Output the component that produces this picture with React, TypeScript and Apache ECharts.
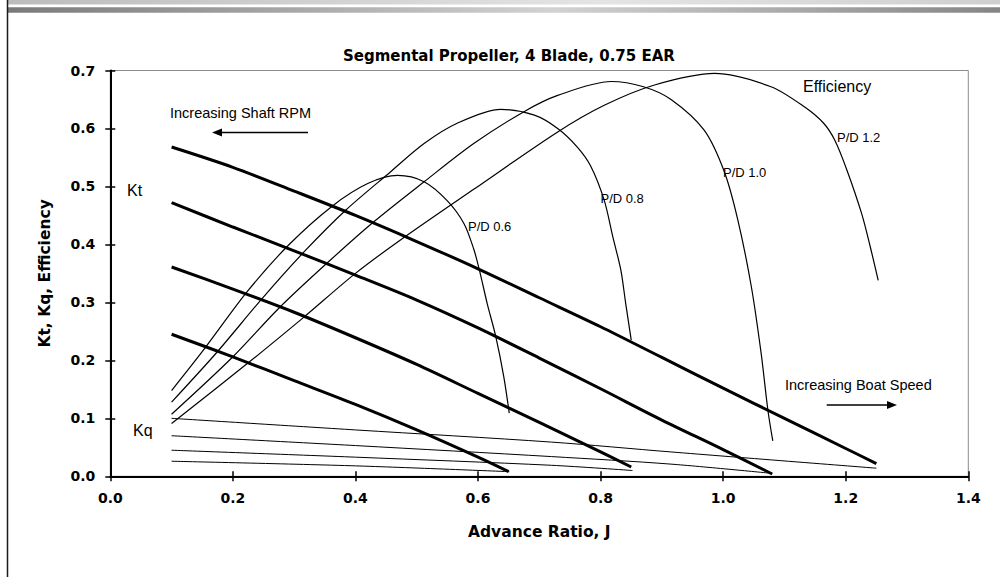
import React, { useEffect, useRef } from "react";
import * as echarts from "echarts";

// ---- Axis ticks ----
const X_TICK_LABELS = ["0.0", "0.2", "0.4", "0.6", "0.8", "1.0", "1.2", "1.4"];
const Y_TICK_LABELS = ["0.0", "0.1", "0.2", "0.3", "0.4", "0.5", "0.6", "0.7"];

// ---- Thrust coefficient Kt (thick lines) [J, Kt] ----
const KT_PD12 = [[0.1, 0.568], [0.2, 0.533], [0.3, 0.492], [0.4, 0.45], [0.5, 0.405], [0.6, 0.358], [0.7, 0.308], [0.8, 0.258], [0.9, 0.205], [1.0, 0.152], [1.1, 0.1], [1.2, 0.048], [1.25, 0.022]];
const KT_PD10 = [[0.1, 0.472], [0.2, 0.43], [0.3, 0.389], [0.4, 0.347], [0.5, 0.304], [0.6, 0.256], [0.7, 0.204], [0.8, 0.151], [0.9, 0.097], [1.0, 0.046], [1.08, 0.004]];
const KT_PD08 = [[0.1, 0.361], [0.2, 0.323], [0.3, 0.283], [0.4, 0.239], [0.5, 0.193], [0.6, 0.143], [0.7, 0.093], [0.8, 0.042], [0.85, 0.016]];
const KT_PD06 = [[0.1, 0.245], [0.2, 0.206], [0.3, 0.165], [0.4, 0.124], [0.5, 0.08], [0.6, 0.033], [0.65, 0.008]];

// ---- Efficiency (thin arches) [J, eta] ----
const EFF_PD06 = [[0.1, 0.148], [0.155, 0.222], [0.223, 0.318], [0.291, 0.399], [0.362, 0.466], [0.42, 0.505], [0.469, 0.519], [0.512, 0.508], [0.55, 0.475], [0.577, 0.436], [0.593, 0.392], [0.602, 0.357], [0.615, 0.298], [0.629, 0.241], [0.642, 0.172], [0.651, 0.109]];
const EFF_PD08 = [[0.1, 0.128], [0.174, 0.214], [0.248, 0.307], [0.316, 0.387], [0.384, 0.459], [0.457, 0.525], [0.512, 0.574], [0.566, 0.609], [0.637, 0.633], [0.692, 0.623], [0.73, 0.6], [0.762, 0.568], [0.784, 0.535], [0.806, 0.476], [0.82, 0.413], [0.833, 0.356], [0.841, 0.298], [0.85, 0.235]];
const EFF_PD10 = [[0.1, 0.107], [0.198, 0.204], [0.277, 0.292], [0.356, 0.37], [0.43, 0.439], [0.512, 0.508], [0.593, 0.574], [0.675, 0.629], [0.73, 0.657], [0.817, 0.681], [0.87, 0.672], [0.915, 0.65], [0.969, 0.597], [1.002, 0.525], [1.024, 0.442], [1.046, 0.327], [1.062, 0.212], [1.073, 0.114], [1.081, 0.061]];
const EFF_PD12 = [[0.1, 0.091], [0.223, 0.194], [0.313, 0.272], [0.4, 0.35], [0.474, 0.408], [0.593, 0.495], [0.73, 0.594], [0.806, 0.64], [0.888, 0.675], [0.986, 0.695], [1.078, 0.672], [1.133, 0.637], [1.164, 0.609], [1.182, 0.58], [1.202, 0.528], [1.226, 0.453], [1.24, 0.396], [1.253, 0.338]];

// ---- Torque coefficient Kq (thin, nearly straight) [J, Kq] ----
const KQ_PD12 = [[0.1, 0.1], [0.4, 0.08], [0.72, 0.059], [0.915, 0.042], [1.25, 0.014]];
const KQ_PD10 = [[0.1, 0.07], [0.4, 0.053], [0.72, 0.034], [0.915, 0.021], [1.08, 0.005]];
const KQ_PD08 = [[0.1, 0.045], [0.4, 0.033], [0.72, 0.019], [0.852, 0.01]];
const KQ_PD06 = [[0.1, 0.026], [0.4, 0.018], [0.651, 0.008]];

const TITLE = "Segmental Propeller, 4 Blade, 0.75 EAR";
const X_NAME = "Advance Ratio, J";
const Y_NAME = "Kt, Kq, Efficiency";

const REG = "Liberation Sans, Arial, sans-serif";
const BOLD = "DejaVu Sans, sans-serif";

export default function App() {
  const ref = useRef<HTMLDivElement>(null);

  useEffect(() => {
    document.body.style.margin = "0";
    if (!ref.current) return;
    const chart = echarts.init(ref.current, undefined, { renderer: "svg" });

    const lineSeries = (name: string, data: number[][], width: number, smooth: number | boolean) => ({
      name,
      type: "line",
      data,
      xAxisIndex: 0,
      yAxisIndex: 0,
      showSymbol: false,
      symbol: "none",
      smooth,
      lineStyle: { color: "#000", width },
      silent: true,
      z: width > 2 ? 4 : 3,
    });

    const txt = (text: string, x: number, y: number, size: number) => ({
      type: "text",
      x,
      y,
      style: { text, fill: "#000", font: `${size}px ${REG}`, textVerticalAlign: "middle", verticalAlign: "middle" },
    });

    const option: any = {
      animation: false,
      backgroundColor: "#fff",
      title: {
        text: TITLE,
        left: 338,
        top: 43,
        textStyle: { fontFamily: BOLD, fontWeight: "bold", fontSize: 15, color: "#000" },
      },
      grid: {
        left: 110.3,
        right: 31.7,
        top: 70.5,
        bottom: 100.7,
        show: true,
        borderColor: "#8c8c8c",
        borderWidth: 1,
        backgroundColor: "transparent",
        containLabel: false,
        outerBoundsMode: "none",
      },
      xAxis: [
        {
          type: "value",
          min: 0,
          max: 1.4,
          interval: 0.2,
          position: "bottom",
          name: X_NAME,
          nameLocation: "middle",
          nameGap: 48,
          nameTextStyle: { fontFamily: BOLD, fontWeight: "bold", fontSize: 15.5, color: "#000" },
          axisLine: { show: true, onZero: false, lineStyle: { color: "#000", width: 2 } },
          axisTick: { show: true, inside: false, length: 5, lineStyle: { color: "#000", width: 1.5 } },
          axisLabel: {
            formatter: (_v: number, i: number) => X_TICK_LABELS[i],
            fontFamily: BOLD,
            fontWeight: "bold",
            fontSize: 14,
            color: "#000",
            margin: 15,
          },
          splitLine: { show: false },
        },
        {
          type: "value",
          min: 0,
          max: 1.4,
          interval: 0.2,
          position: "bottom",
          axisLine: { show: false, onZero: false },
          axisTick: { show: true, inside: true, length: 5, lineStyle: { color: "#000", width: 1.5 } },
          axisLabel: { show: false },
          splitLine: { show: false },
        },
      ],
      yAxis: [
        {
          type: "value",
          min: 0,
          max: 0.7,
          interval: 0.1,
          position: "left",
          name: Y_NAME,
          nameLocation: "middle",
          nameGap: 57,
          nameTextStyle: { fontFamily: BOLD, fontWeight: "bold", fontSize: 15.5, color: "#000" },
          axisLine: { show: true, onZero: false, lineStyle: { color: "#000", width: 2 } },
          axisTick: { show: true, inside: false, length: 5, lineStyle: { color: "#000", width: 1.5 } },
          axisLabel: {
            formatter: (_v: number, i: number) => Y_TICK_LABELS[i],
            fontFamily: BOLD,
            fontWeight: "bold",
            fontSize: 14,
            color: "#000",
            margin: 15,
          },
          splitLine: { show: false },
        },
        {
          type: "value",
          min: 0,
          max: 0.7,
          interval: 0.1,
          position: "left",
          axisLine: { show: false, onZero: false },
          axisTick: { show: true, inside: true, length: 5, lineStyle: { color: "#000", width: 1.5 } },
          axisLabel: { show: false },
          splitLine: { show: false },
        },
      ],
      series: [
        lineSeries("Kt P/D 1.2", KT_PD12, 3, 0.3),
        lineSeries("Kt P/D 1.0", KT_PD10, 3, 0.3),
        lineSeries("Kt P/D 0.8", KT_PD08, 3, 0.3),
        lineSeries("Kt P/D 0.6", KT_PD06, 3, 0.3),
        lineSeries("Eff P/D 0.6", EFF_PD06, 1.2, 0.3),
        lineSeries("Eff P/D 0.8", EFF_PD08, 1.2, 0.3),
        lineSeries("Eff P/D 1.0", EFF_PD10, 1.2, 0.3),
        lineSeries("Eff P/D 1.2", EFF_PD12, 1.2, 0.3),
        lineSeries("Kq P/D 1.2", KQ_PD12, 1, 0.3),
        lineSeries("Kq P/D 1.0", KQ_PD10, 1, 0.3),
        lineSeries("Kq P/D 0.8", KQ_PD08, 1, 0.3),
        lineSeries("Kq P/D 0.6", KQ_PD06, 1, 0.3),
      ],
      graphic: [
        // slide frame
        {
          type: "rect",
          shape: { x: 8, y: 0, width: 992, height: 4.5 },
          style: {
            fill: new echarts.graphic.LinearGradient(0, 0, 1, 0, [
              { offset: 0, color: "#bcbcbc" },
              { offset: 0.6, color: "#e4e4e4" },
              { offset: 1, color: "#cfcfcf" },
            ]),
          },
          silent: true,
        },
        {
          type: "rect",
          shape: { x: 8, y: 7.3, width: 992, height: 5.4 },
          style: {
            fill: new echarts.graphic.LinearGradient(0, 0, 1, 0, [
              { offset: 0, color: "#7a7a7a" },
              { offset: 0.55, color: "#d2d2d2" },
              { offset: 1, color: "#858585" },
            ]),
          },
          silent: true,
        },
        {
          type: "line",
          shape: { x1: 7.5, y1: 0, x2: 7.5, y2: 577 },
          style: { stroke: "#1a1a1a", lineWidth: 1.5 },
          silent: true,
        },
        // annotations
        txt("Increasing Shaft RPM", 170, 113, 14.5),
        {
          type: "line",
          shape: { x1: 308, y1: 132.5, x2: 220, y2: 132.5 },
          style: { stroke: "#000", lineWidth: 1.5 },
        },
        {
          type: "polygon",
          shape: { points: [[212, 132.5], [222, 128.5], [222, 136.5]] },
          style: { fill: "#000" },
        },
        txt("Kt", 127, 190, 16),
        txt("Kq", 133, 430, 16),
        txt("P/D 0.6", 468, 226.5, 13),
        txt("P/D 0.8", 600.5, 198.5, 13),
        txt("P/D 1.0", 723, 172.5, 13),
        txt("P/D 1.2", 837, 137.5, 13),
        txt("Efficiency", 803, 86.5, 16),
        txt("Increasing Boat Speed", 785, 385, 14.5),
        {
          type: "line",
          shape: { x1: 826.7, y1: 405, x2: 890, y2: 405 },
          style: { stroke: "#000", lineWidth: 1.5 },
        },
        {
          type: "polygon",
          shape: { points: [[897, 405], [887, 401], [887, 409]] },
          style: { fill: "#000" },
        },
      ],
    };

    chart.setOption(option);
    return () => chart.dispose();
  }, []);

  return <div ref={ref} style={{ width: 1000, height: 577 }} />;
}
